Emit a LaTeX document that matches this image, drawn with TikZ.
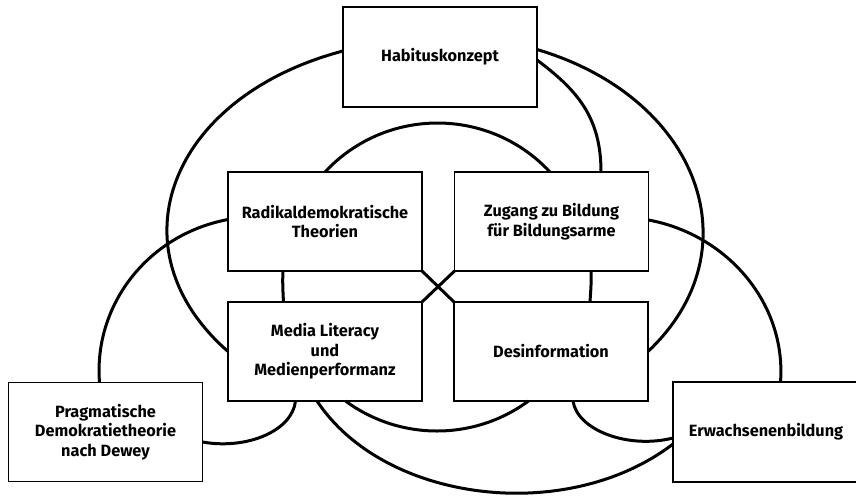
\documentclass[tikz,border=0pt]{standalone}
\usepackage{fontspec}
\setmainfont{Fira Sans}
\begin{document}
\begin{tikzpicture}[x=1pt,y=-1pt,
  box/.style={draw, fill=white, line width=1.5pt, minimum width=194pt, minimum height=99pt,
    inner sep=0pt, outer sep=0pt, align=center,
    font=\fontsize{16.3}{19.5}\selectfont\bfseries},
  link/.style={line width=3pt}]
\useasboundingbox (0,0) rectangle (856,495);
\clip (0,0) rectangle (856,495);
\node[box, minimum height=100pt] (hab) at (440,57) {Habituskonzept};
\node[box] (rad) at (325,221.5) {Radikaldemokratische\\Theorien};
\node[box] (zug) at (551.5,221.5) {Zugang zu Bildung\\für Bildungsarme};
\node[box] (med) at (325,351.5) {Media Literacy\\und\\Medienperformanz};
\node[box] (des) at (551,351.5) {Desinformation};
\node[box] (pra) at (105.5,432) {Pragmatische\\Demokratietheorie\\nach Dewey};
\node[box, minimum width=186pt, minimum height=100pt] (erw) at (766,432) {Erwachsenenbildung};
% outer arcs from Habituskonzept
\draw[link] ([yshift=6pt]hab.west) .. controls +(-173.5,45.7) and +(-117.3,-102.8) .. (med.west);
\draw[link] ([yshift=7.5pt]hab.east) .. controls +(162.9,48.3) and +(107,-100.9) .. (des.east);
\draw[link] ([yshift=-3pt]hab.east) .. controls +(40,30) and +(0,-55) .. ([xshift=49.5pt]zug.north);
% central circle
\draw[link] (rad.north) .. controls +(60.9,-65.3) and +(-60.9,-65.3) .. ([xshift=-1.5pt]zug.north);
\draw[link] ([xshift=-42pt]rad.south) .. controls +(-0.6,10) and +(-0.6,-10) .. ([xshift=-41.5pt]med.north);
\draw[link] ([xshift=39.5pt]zug.south) .. controls +(0.6,10) and +(0.6,-10) .. ([xshift=39pt]des.north);
\draw[link] ([xshift=20.5pt]med.south) .. controls +(54.4,40) and +(-54.4,40) .. ([xshift=-22.5pt]des.south);
% cross
\draw[link] (rad.south east) -- (des.north west);
\draw[link] (zug.south west) -- (med.north east);
% side arcs
\draw[link] ([yshift=1.5pt]zug.east) .. controls +(79.9,14.9) and +(5.8,-77.7) .. ([xshift=14.5pt]erw.north);
\draw[link] ([yshift=2pt]rad.west) .. controls +(-80,15) and +(-6.1,-77.8) .. ([xshift=-6pt]pra.north);
\draw[link] ([yshift=-10pt]pra.east) .. controls +(45.4,8) and +(-3.1,29.3) .. ([xshift=-29.5pt]med.south);
\draw[link] ([xshift=-8pt]med.south) .. controls +(67.2,101.5) and +(-106.2,81.2) .. ([yshift=-12pt]erw.west);
\draw[link] ([xshift=22pt]des.south) .. controls +(4.2,29.1) and +(-45,11.4) .. ([yshift=-6pt]erw.west);
\end{tikzpicture}
\end{document}
